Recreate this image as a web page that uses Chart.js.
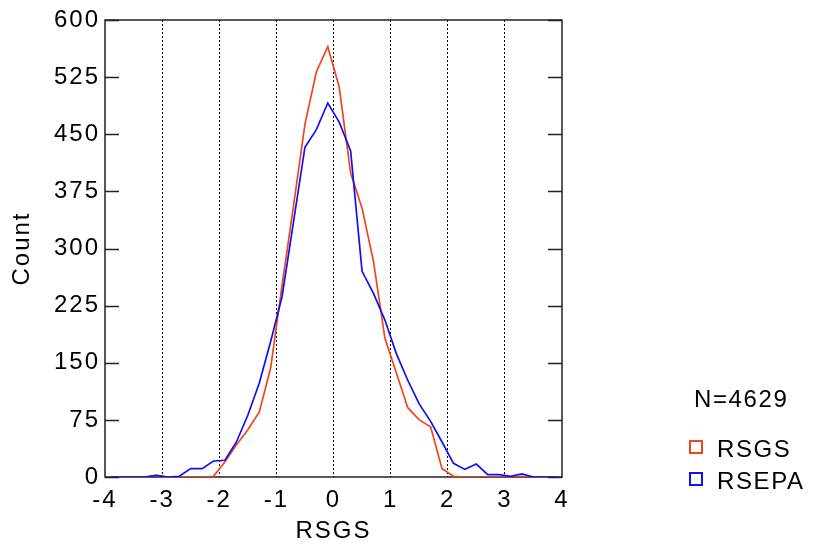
<!DOCTYPE html>
<html>
<head>
<meta charset="utf-8">
<script src="https://cdn.jsdelivr.net/npm/chart.js@4.4.1/dist/chart.umd.min.js"></script>
<style>
  body { margin: 0; background: #fff; }
  #wrap { position: relative; width: 813px; height: 550px; }
  .txt { position: absolute; font-family: 'Liberation Sans', Arial, sans-serif; color: #000; white-space: nowrap; letter-spacing: 1.6px; }
  .box { position: absolute; width: 14px; height: 14px; box-sizing: border-box; border-width: 2px; border-style: solid; background: #fff; }
</style>
</head>
<body>
<div id="wrap">
  <canvas id="chart" width="813" height="550"></canvas>
  <div id="legend"></div>
</div>
<script>
// bin centres (width 0.2)
const xBins = [-3.9, -3.7, -3.5, -3.3, -3.1, -2.9, -2.7, -2.5, -2.3, -2.1,
               -1.9, -1.7, -1.5, -1.3, -1.1, -0.9, -0.7, -0.5, -0.3, -0.1,
                0.1,  0.3,  0.5,  0.7,  0.9,  1.1,  1.3,  1.5,  1.7,  1.9,
                2.1,  2.3,  2.5,  2.7,  2.9,  3.1,  3.3,  3.5,  3.7,  3.9];
const rsgsCounts  = [0, 0, 0, 0, 2, 0, 0, 0, 0, 1,
                     20, 42, 62, 85, 143, 252, 356, 463, 532, 565,
                     512, 399, 353, 283, 182, 137, 91, 75, 66, 11,
                     1, 0, 0, 0, 0, 0, 1, 0, 0, 0];
const rsepaCounts = [0, 0, 0, 0, 2, 0, 1, 11, 11, 21,
                     22, 46, 81, 123, 178, 237, 335, 433, 456, 491,
                     466, 428, 270, 241, 206, 162, 127, 96, 73, 46,
                     18, 10, 17, 3, 3, 1, 4, 0, 0, 0];
const seriesNames = ['RSGS', 'RSEPA'];
const seriesColors = ['#f0461e', '#1010f5'];
const xTitle = 'RSGS';
const yTitle = 'Count';
const sampleNote = 'N=4629';

const FONT = "'Liberation Sans', Arial, sans-serif";

const toPoints = (vals) => xBins.map((x, i) => ({ x: x, y: vals[i] }));

// the original lettering is a bit wider than Liberation Sans
const spacingPlugin = {
  id: 'spacing',
  beforeUpdate(chart) { chart.ctx.letterSpacing = '2px'; },
  beforeDraw(chart) { chart.ctx.letterSpacing = '2px'; }
};

// frame + inward y ticks on both sides
const framePlugin = {
  id: 'frame',
  beforeDatasetsDraw(chart) {
    const { ctx, chartArea: a } = chart;
    const ys = chart.scales.y;
    ctx.save();
    ctx.strokeStyle = '#222';
    ctx.lineWidth = 1.5;
    ctx.strokeRect(a.left, a.top, a.right - a.left, a.bottom - a.top);
    ctx.beginPath();
    ys.ticks.forEach((t) => {
      const y = Math.round(ys.getPixelForValue(t.value)) + 0.5;
      ctx.moveTo(a.left, y); ctx.lineTo(a.left + 14, y);
      ctx.moveTo(a.right - 14, y); ctx.lineTo(a.right, y);
    });
    ctx.stroke();
    ctx.restore();
  }
};

new Chart(document.getElementById('chart'), {
  type: 'line',
  data: {
    datasets: [
      { label: seriesNames[0], data: toPoints(rsgsCounts), borderColor: seriesColors[0], order: 1 },
      { label: seriesNames[1], data: toPoints(rsepaCounts), borderColor: seriesColors[1], order: 0 }
    ]
  },
  options: {
    responsive: false,
    animation: false,
    devicePixelRatio: 1,
    layout: { padding: { top: 20, right: 251, left: 0, bottom: 0 } },
    elements: {
      point: { radius: 0 },
      line: { borderWidth: 1.7, tension: 0, fill: false }
    },
    plugins: { legend: { display: false }, tooltip: { enabled: false } },
    scales: {
      x: {
        type: 'linear', min: -4, max: 4,
        afterFit: (s) => { s.height = 73; },
        ticks: { stepSize: 1, color: '#000', padding: 9, maxRotation: 0, font: { family: FONT, size: 24 } },
        grid: {
          drawTicks: false, lineWidth: 1,
          color: (c) => (c.tick && Math.abs(c.tick.value) === 4 ? 'rgba(0,0,0,0)' : '#000')
        },
        border: { display: false, dash: [2, 2] },
        title: { display: true, text: xTitle, color: '#000', padding: { top: 0, bottom: 4 }, font: { family: FONT, size: 24 } }
      },
      y: {
        min: 0, max: 600,
        afterFit: (s) => { s.width = 105; },
        ticks: { stepSize: 75, color: '#000', padding: 5, font: { family: FONT, size: 24 } },
        grid: { display: false, drawTicks: false },
        border: { display: false },
        title: { display: true, text: yTitle, color: '#000', padding: { top: 8, bottom: 0 }, font: { family: FONT, size: 24 } }
      }
    }
  },
  plugins: [spacingPlugin, framePlugin]
});

// legend block on the right
const legend = document.getElementById('legend');
const note = document.createElement('div');
note.className = 'txt';
note.style.cssText = 'left:694px; top:387px; font-size:24px; line-height:24px;';
note.textContent = sampleNote;
legend.appendChild(note);
seriesNames.forEach((name, i) => {
  const top = 440 + i * 32;
  const box = document.createElement('div');
  box.className = 'box';
  box.style.left = '689px';
  box.style.top = top + 'px';
  box.style.borderColor = seriesColors[i];
  legend.appendChild(box);
  const t = document.createElement('div');
  t.className = 'txt';
  t.style.cssText = `left:717px; top:${top - 3}px; font-size:24px; line-height:24px;`;
  t.textContent = name;
  legend.appendChild(t);
});
</script>
</body>
</html>
